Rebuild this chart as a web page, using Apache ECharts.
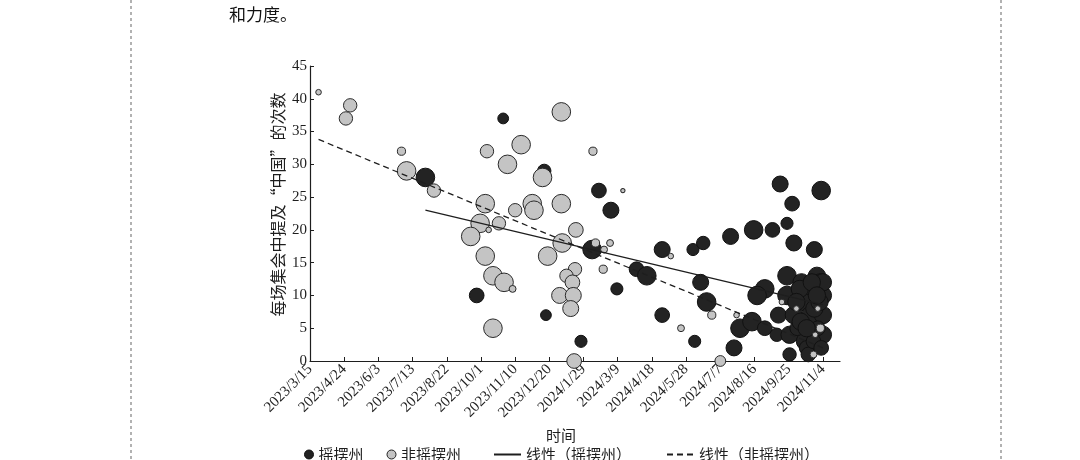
<!DOCTYPE html>
<html>
<head>
<meta charset="utf-8">
<script src="https://cdn.jsdelivr.net/npm/echarts@6/dist/echarts.min.js"></script>
<style>
html,body{margin:0;padding:0;background:#fff;}
#c{width:1080px;height:460px;}
</style>
</head>
<body>
<div id="c"></div>
<script>
// ---------- DATA ----------
const axisStartDate = '2023-03-15';
const axisTickStepDays = 40;
const axisSpanDays = 620;
const yTicks = [0, 5, 10, 15, 20, 25, 30, 35, 40, 45];

// 摇摆州 (swing states): date, mentions, bubble weight
const swingDates = [
  '2023-07-28','2023-10-27','2023-12-14','2023-09-26','2023-12-16',
  '2024-02-16','2024-03-01','2024-02-08','2024-03-08','2024-01-26',
  '2024-03-31','2024-04-12','2024-04-30','2024-04-30','2024-06-07',
  '2024-06-05','2024-06-17','2024-06-14','2024-06-21','2024-07-19',
  '2024-07-23','2024-07-30','2024-08-13','2024-08-28','2024-08-15',
  '2024-09-06','2024-09-23','2024-09-15','2024-09-29','2024-10-01',
  '2024-11-02','2024-10-25','2024-08-28','2024-08-19',
  '2024-09-23','2024-10-28','2024-11-01','2024-09-23','2024-10-20',
  '2024-11-04','2024-10-12','2024-09-13','2024-10-01','2024-10-20',
  '2024-11-04','2024-09-11','2024-09-26','2024-10-14','2024-11-04',
  '2024-09-26','2024-10-16','2024-10-18','2024-10-29','2024-10-10',
  '2024-10-25','2024-10-05','2024-11-04',
  '2024-10-08','2024-10-22','2024-10-31','2024-10-09','2024-10-24',
  '2024-11-02','2024-10-16','2024-10-28','2024-10-04'
];
const swingCounts = [
  28, 37, 29, 10, 7,
  26, 23, 17, 11, 3,
  14, 13, 17, 7, 3,
  17, 18, 12, 9, 19,
  2, 5, 6, 5, 20,
  20, 21, 27, 24, 18,
  26, 17, 11, 10,
  13, 13, 12, 10, 10,
  10, 9, 7, 7, 7,
  7, 4, 4, 3, 4,
  1, 2, 1, 5, 12,
  8, 5, 12,
  11, 12, 9, 6, 3,
  2, 5, 10, 9
];
const swingWeights = [
  6, 3, 4, 4.5, 3,
  4.5, 5, 6, 3.5, 3.5,
  4.5, 6, 5, 4.5, 3.5,
  3.5, 4, 5, 6, 5,
  5, 6, 6, 4.5, 6,
  4.5, 3.5, 5, 4.5, 5,
  6, 5, 6, 6,
  6, 5.5, 5.5, 6, 5.5,
  5.5, 5.5, 5, 5.5, 5.5,
  5.5, 4, 5.5, 5.5, 5.5,
  4, 4.5, 4.5, 4.5, 5.5,
  5.5, 4.5, 5.5,
  5.5, 5.5, 5.5, 5.5, 4.5,
  4.5, 5.5, 5.5, 5.5
];

// 非摇摆州 (non-swing states)
const nonSwingDates = [
  '2023-03-25','2023-05-01','2023-04-26','2023-06-30','2023-07-06',
  '2023-08-07','2023-10-08','2023-11-17','2023-11-01','2023-12-12',
  '2023-10-06','2023-11-30','2023-12-02','2023-11-10','2023-09-30',
  '2023-10-10','2023-10-22','2023-09-19','2023-10-06','2023-12-18',
  '2023-10-15','2023-10-28','2023-11-07','2023-10-15','2024-01-03',
  '2024-02-09','2024-03-15','2024-01-03','2024-01-20','2024-01-04',
  '2024-02-12','2024-02-29','2024-02-22','2024-02-21','2024-01-19',
  '2024-01-09','2024-01-16','2024-01-01','2024-01-17','2024-01-14',
  '2024-01-18','2024-05-10','2024-05-22','2024-06-27','2024-07-26',
  '2024-07-07','2024-09-17','2024-10-04','2024-10-29','2024-11-01',
  '2024-10-26','2024-10-24'
];
const nonSwingCounts = [
  41, 39, 37, 32, 29,
  26, 32, 33, 30, 28,
  24, 24, 23, 23, 21,
  20, 21, 19, 16, 16,
  13, 12, 11, 5, 38,
  32, 26, 24, 20, 18,
  18, 18, 17, 14, 14,
  13, 12, 10, 10, 8,
  0, 16, 5, 7, 7,
  0, 9, 8, 8, 5,
  4, 1
];
const nonSwingWeights = [
  1, 4, 4, 2, 6,
  4, 4, 6, 6, 6,
  6, 6, 6, 4, 6,
  1, 4, 6, 6, 6,
  6, 6, 1.5, 6, 6,
  2, 0.5, 6, 4.5, 6,
  2, 1.5, 1.5, 2, 4,
  4, 4.5, 5, 5, 5,
  4.5, 1, 1.5, 2, 1,
  3, 1, 1, 1, 2,
  1, 1.5
];

// 线性趋势线 (endpoints)
const trendSwingDates = ['2023-07-28', '2024-11-04'];
const trendSwingValues = [23.0, 8.6];
const trendNonSwingDates = ['2023-03-25', '2024-11-04'];
const trendNonSwingValues = [33.8, 2.0];

// ---------- helpers ----------
const DAY = 86400000;
function parseUTC(s){ const p = s.split('-').map(Number); return Date.UTC(p[0], p[1]-1, p[2]); }
const base = parseUTC(axisStartDate);
function dayOffset(s){ return Math.round((parseUTC(s) - base) / DAY); }
function fmtDay(v){
  const d = new Date(base + v * DAY);
  return d.getUTCFullYear() + '/' + (d.getUTCMonth()+1) + '/' + d.getUTCDate();
}
function build(dates, counts, weights){
  return dates.map((d,i)=>[dayOffset(d), counts[i], weights ? weights[i] : null]);
}
const swingData = build(swingDates, swingCounts, swingWeights);
const nonSwingData = build(nonSwingDates, nonSwingCounts, nonSwingWeights);
const trendSwing = build(trendSwingDates, trendSwingValues);
const trendNonSwing = build(trendNonSwingDates, trendNonSwingValues);

const bubbleSize = d => 3 + 2.6 * d[2];

const serif = '"Liberation Serif", "DejaVu Serif", serif';
const cjk = '"Noto Sans CJK SC", "Noto Sans", sans-serif';
const ink = '#1e1e1e';

const chart = echarts.init(document.getElementById('c'), null, {renderer:'canvas'});
chart.setOption({
  backgroundColor: '#ffffff',
  animation: false,
  grid: { left: 310, right: 240, top: 66, bottom: 99 },
  graphic: [
    { type:'line', shape:{x1:131, y1:0, x2:131, y2:460}, style:{stroke:'#666', lineWidth:1, lineDash:[3,3]} },
    { type:'line', shape:{x1:1001, y1:0, x2:1001, y2:460}, style:{stroke:'#666', lineWidth:1, lineDash:[3,3]} },
    { type:'text', left: 229, top: 6, style:{ text:'和力度。', font:'17px ' + cjk, fill:'#111' } }
  ],
  legend: [
    {
      left: 299, top: 442,
      itemGap: 23,
      itemWidth: 9, itemHeight: 9,
      textStyle: { fontFamily: cjk, fontSize: 15, color: ink },
      data: [
        { name:'摇摆州', icon:'circle', itemStyle:{ color:'#222', borderColor:'#111', borderWidth:1 } },
        { name:'非摇摆州', icon:'circle', itemStyle:{ color:'#c4c4c4', borderColor:'#222', borderWidth:1 } }
      ]
    },
    {
      left: 488, top: 442,
      itemGap: 35,
      itemWidth: 27, itemHeight: 9,
      textStyle: { fontFamily: cjk, fontSize: 15, color: ink },
      itemStyle: { opacity: 0 },
      data: [ { name:'线性（摇摆州）' }, { name:'线性（非摇摆州）' } ]
    }
  ],
  xAxis: {
    type: 'value',
    min: 0, max: axisSpanDays, interval: axisTickStepDays,
    name: '时间', nameLocation: 'middle', nameGap: 66,
    nameTextStyle: { fontFamily: cjk, fontSize: 15, color: ink, padding: [0, 28, 0, 0] },
    axisLine: { show: true, lineStyle: { color: ink, width: 1.2 } },
    axisTick: { show: true, inside: true, length: 4, lineStyle: { color: ink } },
    splitLine: { show: false },
    axisLabel: {
      rotate: 45, margin: 6,
      fontFamily: serif, fontSize: 15, color: ink,
      showMaxLabel: false,
      formatter: v => (v % axisTickStepDays === 0 ? fmtDay(v) : '')
    }
  },
  yAxis: {
    type: 'value',
    min: yTicks[0], max: yTicks[yTicks.length-1], interval: yTicks[1]-yTicks[0],
    name: '每场集会中提及“中国”的次数', nameLocation: 'middle', nameGap: 24,
    nameTextStyle: { fontFamily: cjk, fontSize: 16, color: ink, padding: [0, 0, 0, 18] },
    axisLine: { show: true, lineStyle: { color: ink, width: 1.2 } },
    axisTick: { show: true, inside: true, length: 4, lineStyle: { color: ink } },
    splitLine: { show: false },
    axisLabel: { fontFamily: serif, fontSize: 15, color: ink, margin: 3 }
  },
  series: [
    {
      name: '摇摆州', type: 'scatter', data: swingData, z: 2,
      symbolSize: bubbleSize,
      itemStyle: { color: '#232323', borderColor: '#111', borderWidth: 1, opacity: 1 }
    },
    {
      name: '非摇摆州', type: 'scatter', data: nonSwingData, z: 3,
      symbolSize: bubbleSize,
      itemStyle: { color: '#c4c4c4', borderColor: '#2a2a2a', borderWidth: 1, opacity: 1 }
    },
    {
      name: '线性（摇摆州）', type: 'line', data: trendSwing, z: 5,
      symbol: 'none', silent: true,
      lineStyle: { color: ink, width: 1.3, type: 'solid' },
      itemStyle: { color: ink }
    },
    {
      name: '线性（非摇摆州）', type: 'line', data: trendNonSwing, z: 5,
      symbol: 'none', silent: true,
      lineStyle: { color: ink, width: 1.3, type: [6, 4] },
      itemStyle: { color: ink }
    }
  ]
});
</script>
</body>
</html>
